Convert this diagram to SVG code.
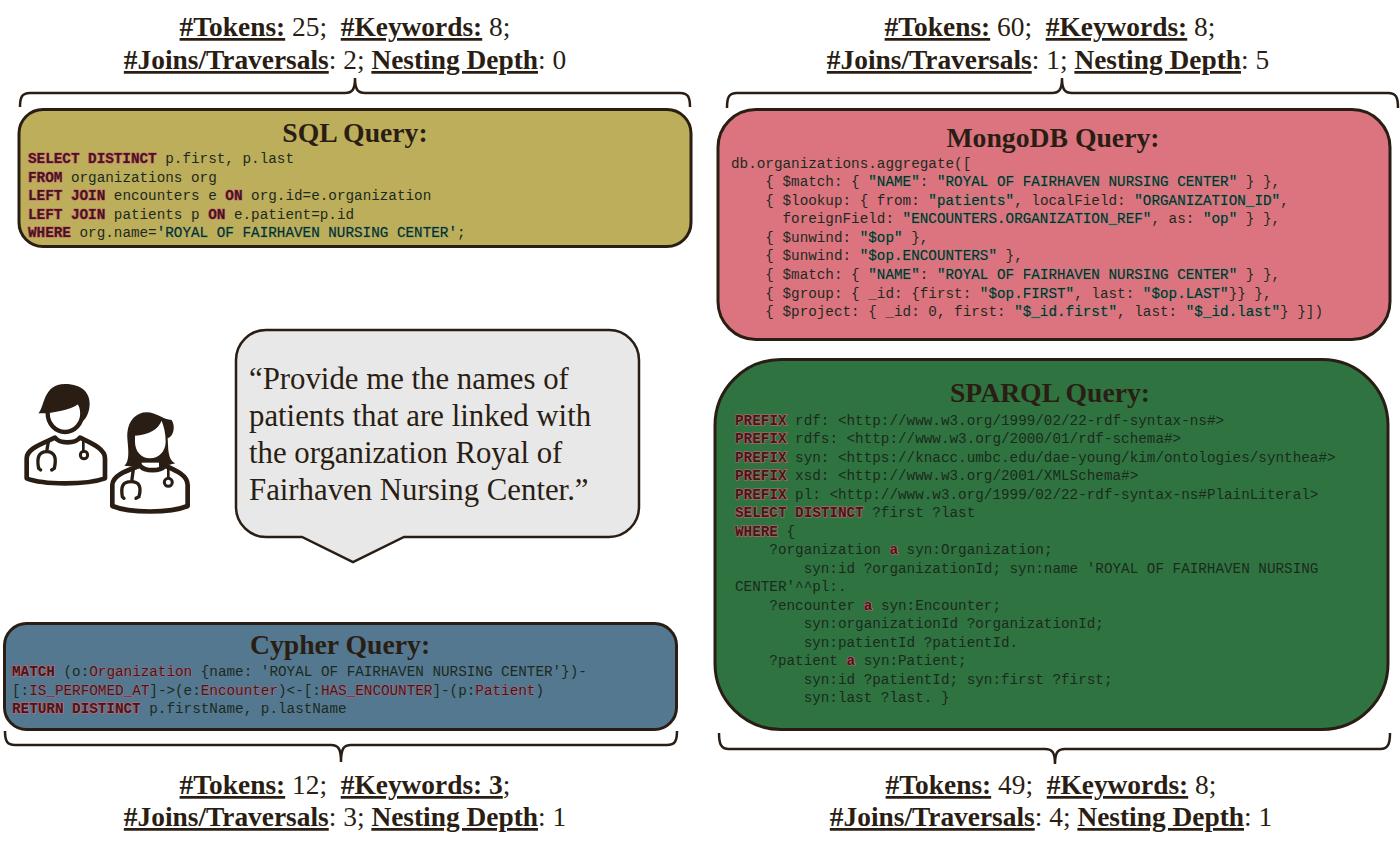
<svg xmlns="http://www.w3.org/2000/svg" width="1400" height="850" viewBox="0 0 1400 850">
<style>
text{white-space:pre}
.st{font:27.400px "Liberation Serif",serif;fill:#2a1e14;text-anchor:middle}
.b{font-weight:bold;text-decoration:underline}
.t{font:bold 27.700px "Liberation Serif",serif;fill:#2a1e14;text-anchor:middle}
.c{font:14.300px "Liberation Mono",monospace;fill:#1c2a1e}
.k{font-weight:bold;fill:#3c1a16;stroke:#d9607a;stroke-width:1.2px;paint-order:stroke}
.n{font-weight:normal;stroke-width:.7px}
.s{fill:#16282a;stroke:#3f9a78;stroke-width:.6px;paint-order:stroke}
.box{stroke:#2a1e14;stroke-width:3}
.br{fill:none;stroke:#2a1e14;stroke-width:2.500}
.q{font:30.800px "Liberation Serif",serif;fill:#2a1e14}
.d{fill:none;stroke:#2a1e14;stroke-width:14;stroke-linejoin:round;stroke-linecap:round}
.h{fill:#2a1e14;stroke:none}
.f{fill:#fff;stroke:#2a1e14;stroke-width:13}
</style>
<g id="connectors">
<path class="br" d="M20,107C20,97 22,93 30,93L345,93C352,93 355,90 355,78C355,90 358,93 365,93L680,93C688,93 690,97 690,107"/>
<path class="br" d="M727,108C727,97 729,93 737,93L1052,93C1059,93 1062,90 1062,78C1062,90 1065,93 1072,93L1388,93C1396,93 1398,97 1398,108"/>
<path class="br" d="M5,731C5,741 7,745 15,745L331,745C338,745 341,748 341,762C341,748 344,745 351,745L667,745C675,745 677,741 677,731"/>
<path class="br" d="M719,733C719,744 721,749 729,749L1045,749C1052,749 1055,752 1055,764C1055,752 1058,749 1065,749L1380,749C1388,749 1390,744 1390,733"/>
</g>
<g id="stats-sql">
<text class="st" x="345" y="36"><tspan class="b">#Tokens:</tspan> 25;  <tspan class="b">#Keywords:</tspan> 8;</text>
<text class="st" x="345" y="69"><tspan class="b">#Joins/Traversals</tspan>: 2; <tspan class="b">Nesting Depth</tspan>: 0</text>
</g>
<g id="stats-mongodb">
<text class="st" x="1050" y="36"><tspan class="b">#Tokens:</tspan> 60;  <tspan class="b">#Keywords:</tspan> 8;</text>
<text class="st" x="1048" y="69"><tspan class="b">#Joins/Traversals</tspan>: 1; <tspan class="b">Nesting Depth</tspan>: 5</text>
</g>
<g id="stats-cypher">
<text class="st" x="345" y="794"><tspan class="b">#Tokens:</tspan> 12;  <tspan class="b">#Keywords: 3</tspan>;</text>
<text class="st" x="345" y="826"><tspan class="b">#Joins/Traversals</tspan>: 3; <tspan class="b">Nesting Depth</tspan>: 1</text>
</g>
<g id="stats-sparql">
<text class="st" x="1051" y="794"><tspan class="b">#Tokens:</tspan> 49;  <tspan class="b">#Keywords:</tspan> 8;</text>
<text class="st" x="1051" y="826"><tspan class="b">#Joins/Traversals</tspan>: 4; <tspan class="b">Nesting Depth</tspan>: 1</text>
</g>
<g id="sql">
<rect class="box" x="19" y="109.500" width="672" height="137" rx="24" fill="#bdae5b"/>
<text class="t" x="355" y="142">SQL Query:</text>
<text class="c" x="28" y="163"><tspan class="k">SELECT DISTINCT</tspan> p.first, p.last</text>
<text class="c" x="28" y="182"><tspan class="k">FROM</tspan> organizations org</text>
<text class="c" x="28" y="200"><tspan class="k">LEFT JOIN</tspan> encounters e <tspan class="k">ON</tspan> org.id=e.organization</text>
<text class="c" x="28" y="219"><tspan class="k">LEFT JOIN</tspan> patients p <tspan class="k">ON</tspan> e.patient=p.id</text>
<text class="c" x="28" y="237"><tspan class="k">WHERE</tspan> org.name=<tspan class="s">'ROYAL OF FAIRHAVEN NURSING CENTER'</tspan>;</text>
</g>
<g id="mongodb">
<rect class="box" x="718" y="109.500" width="672" height="230" rx="38" fill="#dc7480"/>
<text class="t" x="1053" y="147">MongoDB Query:</text>
<text class="c" x="731" y="168">db.organizations.aggregate([</text>
<text class="c" x="731" y="186">    { $match: { <tspan class="s">"NAME"</tspan>: <tspan class="s">"ROYAL OF FAIRHAVEN NURSING CENTER"</tspan> } },</text>
<text class="c" x="731" y="205">    { $lookup: { from: <tspan class="s">"patients"</tspan>, localField: <tspan class="s">"ORGANIZATION_ID"</tspan>,</text>
<text class="c" x="731" y="223">      foreignField: <tspan class="s">"ENCOUNTERS.ORGANIZATION_REF"</tspan>, as: <tspan class="s">"op"</tspan> } },</text>
<text class="c" x="731" y="242">    { $unwind: <tspan class="s">"$op"</tspan> },</text>
<text class="c" x="731" y="260">    { $unwind: <tspan class="s">"$op.ENCOUNTERS"</tspan> },</text>
<text class="c" x="731" y="279">    { $match: { <tspan class="s">"NAME"</tspan>: <tspan class="s">"ROYAL OF FAIRHAVEN NURSING CENTER"</tspan> } },</text>
<text class="c" x="731" y="298">    { $group: { _id: {first: <tspan class="s">"$op.FIRST"</tspan>, last: <tspan class="s">"$op.LAST"</tspan>}} },</text>
<text class="c" x="731" y="316">    { $project: { _id: 0, first: <tspan class="s">"$_id.first"</tspan>, last: <tspan class="s">"$_id.last"</tspan>} }])</text>
</g>
<g id="sparql">
<rect class="box" x="715" y="359.500" width="673" height="370" rx="66" fill="#2f7440"/>
<text class="t" x="1050" y="402">SPARQL Query:</text>
<text class="c" x="735" y="425"><tspan class="k">PREFIX</tspan> rdf: &lt;http://www.w3.org/1999/02/22-rdf-syntax-ns#&gt;</text>
<text class="c" x="735" y="443"><tspan class="k">PREFIX</tspan> rdfs: &lt;http://www.w3.org/2000/01/rdf-schema#&gt;</text>
<text class="c" x="735" y="462"><tspan class="k">PREFIX</tspan> syn: &lt;https://knacc.umbc.edu/dae-young/kim/ontologies/synthea#&gt;</text>
<text class="c" x="735" y="480"><tspan class="k">PREFIX</tspan> xsd: &lt;http://www.w3.org/2001/XMLSchema#&gt;</text>
<text class="c" x="735" y="499"><tspan class="k">PREFIX</tspan> pl: &lt;http://www.w3.org/1999/02/22-rdf-syntax-ns#PlainLiteral&gt;</text>
<text class="c" x="735" y="517"><tspan class="k">SELECT DISTINCT</tspan> ?first ?last</text>
<text class="c" x="735" y="536"><tspan class="k">WHERE</tspan> {</text>
<text class="c" x="735" y="554">    ?organization <tspan class="k">a</tspan> syn:Organization;</text>
<text class="c" x="735" y="573">        syn:id ?organizationId; syn:name 'ROYAL OF FAIRHAVEN NURSING</text>
<text class="c" x="735" y="591">CENTER'^^pl:.</text>
<text class="c" x="735" y="610">    ?encounter <tspan class="k">a</tspan> syn:Encounter;</text>
<text class="c" x="735" y="628">        syn:organizationId ?organizationId;</text>
<text class="c" x="735" y="647">        syn:patientId ?patientId.</text>
<text class="c" x="735" y="665">    ?patient <tspan class="k">a</tspan> syn:Patient;</text>
<text class="c" x="735" y="684">        syn:id ?patientId; syn:first ?first;</text>
<text class="c" x="735" y="702">        syn:last ?last. }</text>
</g>
<g id="cypher">
<rect class="box" x="4.500" y="623.500" width="672" height="106" rx="22" fill="#54788f"/>
<text class="t" x="340" y="654">Cypher Query:</text>
<text class="c" x="12" y="676"><tspan class="k">MATCH</tspan> (o:<tspan class="k n">Organization</tspan> {name: 'ROYAL OF FAIRHAVEN NURSING CENTER'})-</text>
<text class="c" x="12" y="695">[:<tspan class="k n">IS_PERFOMED_AT</tspan>]-&gt;(e:<tspan class="k n">Encounter</tspan>)&lt;-[:<tspan class="k n">HAS_ENCOUNTER</tspan>]-(p:<tspan class="k n">Patient</tspan>)</text>
<text class="c" x="12" y="713"><tspan class="k">RETURN DISTINCT</tspan> p.firstName, p.lastName</text>
</g>
<g id="question">
<path d="M266,330H609A30,30 0 0 1 639,360V507A30,30 0 0 1 609,537H404L353,562L302,537H266A30,30 0 0 1 236,507V360A30,30 0 0 1 266,330Z" fill="#e8e8e8" stroke="#2a1e14" stroke-width="2.500"/>
<text class="q" x="249" y="389">“Provide me the names of</text>
<text class="q" x="249" y="426">patients that are linked with</text>
<text class="q" x="249" y="463">the organization Royal of</text>
<text class="q" x="249" y="500">Fairhaven Nursing Center.”</text>
</g>
<g id="doctor-male" transform="translate(0,370) scale(.3333)">
<path class="d" d="M80,325V265C80,235 130,220 165,203C180,222 225,222 240,203C270,218 315,235 315,265V325C260,345 130,345 80,325Z"/>
<ellipse class="f" cx="195" cy="130" rx="52" ry="56"/>
<path class="h" d="M115,130C135,110 128,43 195,42C247,42 271,70 269,105C267,132 256,150 246,155L243,95C225,115 180,125 137,130Z"/>
<path d="M145,215L140,245M122,300L116,295C110,265 115,245 140,245C165,245 170,265 163,295L155,300" fill="none" stroke="#2a1e14" stroke-width="10" stroke-linecap="round"/>
<path d="M250,210V245" stroke="#2a1e14" stroke-width="8"/>
<circle cx="252" cy="255" r="11" fill="#fff" stroke="#2a1e14" stroke-width="9"/>
</g>
<g id="doctor-female" transform="translate(0,370) scale(.3333)">
<path class="h" d="M373,287C395,270 380,215 382,190C385,150 410,127 440,127C470,127 490,150 515,150C528,170 520,200 503,205L505,240C508,265 515,275 526,280L480,292H420Z"/>
<path fill="#fff" d="M405,197C445,195 475,178 485,152C492,170 497,190 497,215C497,245 475,265 450,265C425,265 405,245 405,215Z"/>
<path fill="#fff" d="M425,278H477V294H425Z"/>
<path class="d" d="M337,408V345C337,315 385,300 420,287C435,305 480,305 495,287C525,300 563,315 563,345V408C510,430 390,430 337,408Z"/>
<path d="M400,298L395,335M372,385L367,380C362,350 368,335 393,335C418,335 425,350 417,380L408,385" fill="none" stroke="#2a1e14" stroke-width="10" stroke-linecap="round"/>
<path d="M505,295V325" stroke="#2a1e14" stroke-width="8"/>
<circle cx="505" cy="337" r="12" fill="#fff" stroke="#2a1e14" stroke-width="9"/>
</g>
</svg>
